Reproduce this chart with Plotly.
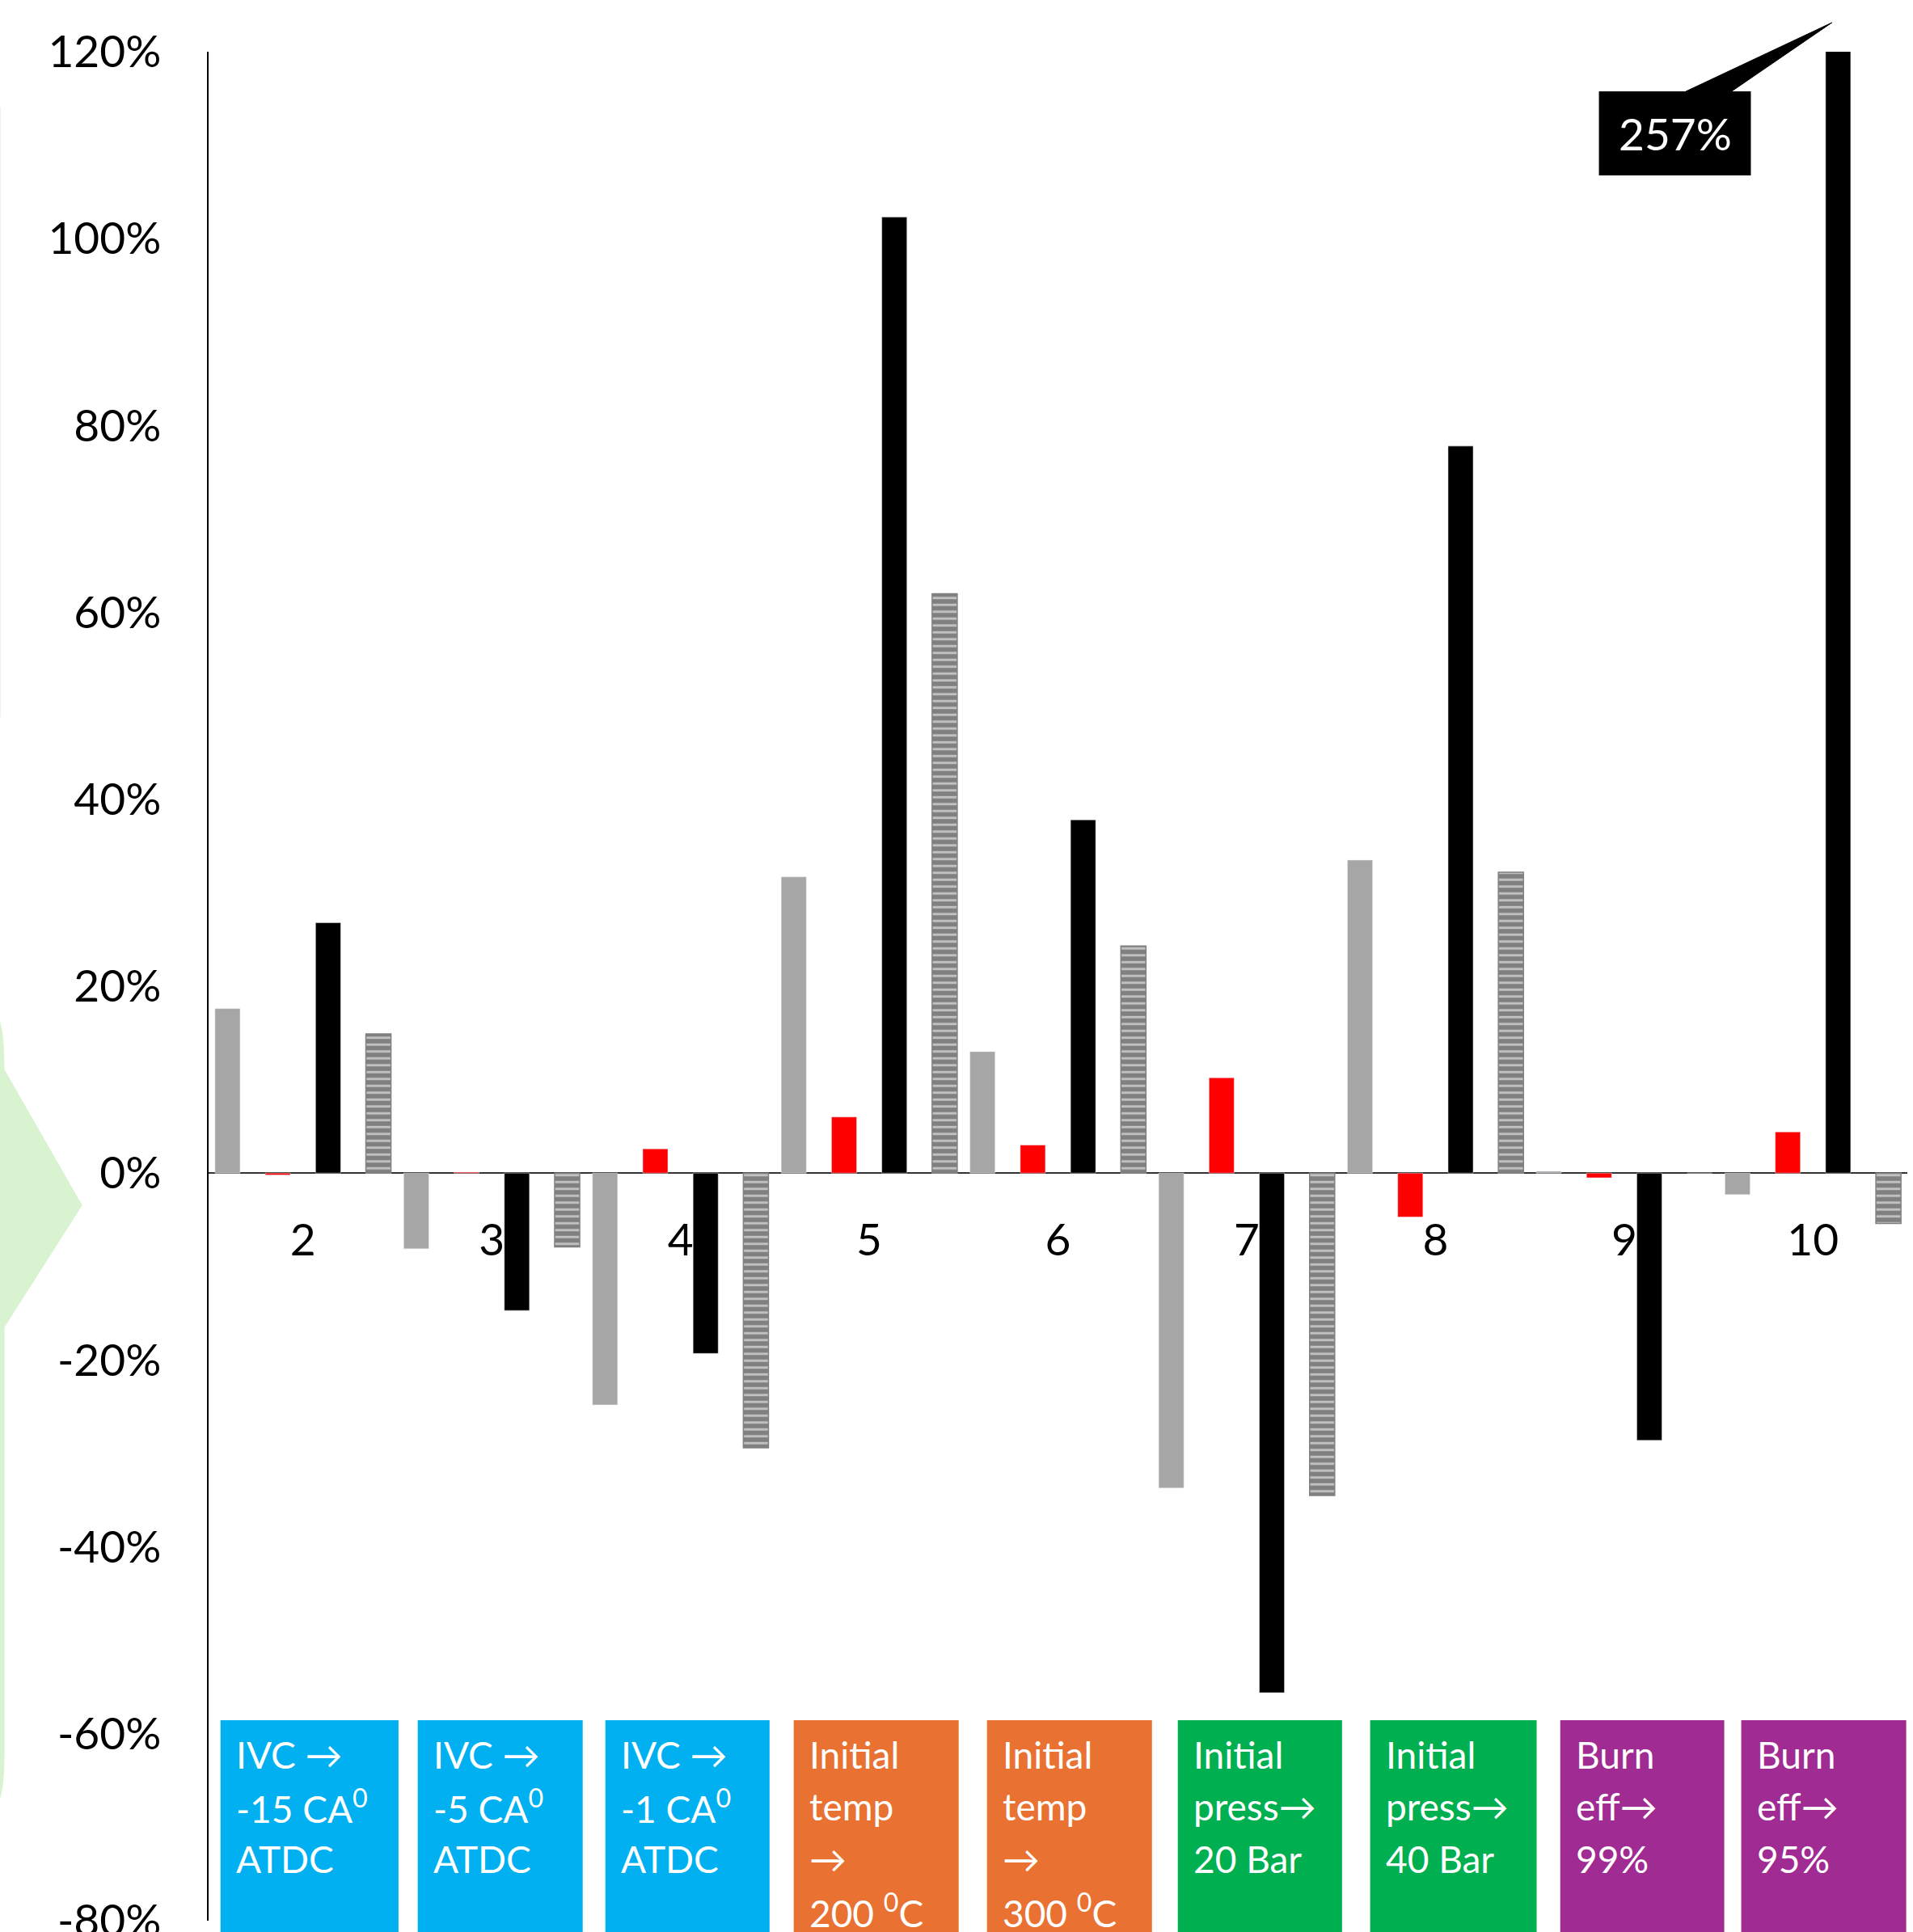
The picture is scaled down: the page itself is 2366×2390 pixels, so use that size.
import plotly.graph_objects as go

# ---- data -------------------------------------------------------------
categories = [2, 3, 4, 5, 6, 7, 8, 9, 10]
category_labels = [str(c) for c in categories]

series_gray = [0.176, -0.081, -0.248, 0.317, 0.130, -0.337, 0.335, 0.002, -0.023]
series_red = [-0.002, 0.001, 0.026, 0.060, 0.030, 0.102, -0.047, -0.005, 0.044]
series_black = [0.268, -0.147, -0.193, 1.023, 0.378, -0.556, 0.778, -0.286, 2.57]
series_hatched = [0.149, -0.079, -0.294, 0.620, 0.243, -0.345, 0.322, 0.0, -0.054]

y_tick_values = [-0.8, -0.6, -0.4, -0.2, 0.0, 0.2, 0.4, 0.6, 0.8, 1.0, 1.2]
y_tick_labels = [f"{v:.0%}" for v in y_tick_values]

scenario_labels = [
    ["IVC \u2192", "-15 CA<sup>0</sup>", "ATDC"],
    ["IVC \u2192", "-5 CA<sup>0</sup>", "ATDC"],
    ["IVC \u2192", "-1 CA<sup>0</sup>", "ATDC"],
    ["Initial", "temp", "\u2192", "200 <sup>0</sup>C"],
    ["Initial", "temp", "\u2192", "300 <sup>0</sup>C"],
    ["Initial", "press\u2192", "20 Bar"],
    ["Initial", "press\u2192", "40 Bar"],
    ["Burn", "eff\u2192", "99%"],
    ["Burn", "eff\u2192", "95%"],
]

# ---- layout constants -------------------------------------------------
W, H = 2366, 2390
M_L, M_R, M_T, M_B = 258, 7, 64, 14
PLOT_W = W - M_L - M_R
PLOT_H = H - M_T - M_B
FONT = "Lato"

BLUE, ORANGE, GREEN, PURPLE = "#00b0f0", "#e97132", "#00b050", "#a02b93"
scenario_colors = [BLUE, BLUE, BLUE, ORANGE, ORANGE, GREEN, GREEN, PURPLE, PURPLE]
# left/right edge of each scenario box, in x-axis units
scenario_spans = [
    (1.563, 2.506), (2.608, 3.482), (3.602, 4.472),
    (4.600, 5.474), (5.624, 6.498), (6.635, 7.505),
    (7.654, 8.536), (8.661, 9.530), (9.620, 10.494),
]

BAR_W = 0.133
BAR_STEP = 0.2665


def py(pix):
    """Pixel row -> paper y."""
    return (H - M_B - pix) / PLOT_H


def px(pix):
    """Pixel column -> paper x."""
    return (pix - M_L) / PLOT_W


fig = go.Figure()

series = [
    (series_gray, dict(color="#a6a6a6")),
    (series_red, dict(color="#ff0000")),
    (series_black, dict(color="#000000")),
    (series_hatched, dict(color="#808080",
                          line=dict(color="#808080", width=1.5),
                          pattern=dict(shape="-", fgcolor="white", bgcolor="#808080",
                                       size=8.5, solidity=0.35))),
]
for k, (vals, marker) in enumerate(series):
    center = (k - 1.5) * BAR_STEP
    fig.add_trace(go.Bar(
        x=categories, y=vals, width=BAR_W, offset=center - BAR_W / 2,
        marker=marker, showlegend=False, hoverinfo="skip",
    ))

fig.update_layout(
    width=W, height=H,
    margin=dict(l=M_L, r=M_R, t=M_T, b=M_B, pad=0, autoexpand=False),
    paper_bgcolor="white", plot_bgcolor="white",
    barmode="overlay",
    font=dict(family=FONT, color="black", size=55),
    xaxis=dict(
        range=[1.5, 10.5], anchor="free", position=0.4,
        tickmode="array", tickvals=categories, ticktext=category_labels,
        showline=True, linecolor="#333333", linewidth=1.5,
        showgrid=False, zeroline=False, ticks="",
        tickfont=dict(family=FONT, size=55, color="black"),
        ticklabelstandoff=35, layer="below traces", automargin=False,
    ),
    yaxis=dict(
        range=[-0.8, 1.2], anchor="x",
        tickmode="array", tickvals=y_tick_values, ticktext=y_tick_labels,
        showline=True, linecolor="black", linewidth=1.5,
        showgrid=False, zeroline=False, ticks="",
        tickfont=dict(family=FONT, size=55, color="black"),
        ticklabelstandoff=46, ticklabeloverflow="allow", automargin=False,
    ),
)

shapes = []
annotations = []

# scenario boxes under the chart
for lines, color, (x0, x1) in zip(scenario_labels, scenario_colors, scenario_spans):
    shapes.append(dict(type="rect", xref="x", yref="paper", x0=x0, x1=x1,
                       y0=py(2450), y1=py(2128), fillcolor=color,
                       line=dict(width=0), layer="above"))
    for j, line in enumerate(lines):
        annotations.append(dict(
            xref="x", yref="paper", x=x0, y=py(2170 + 64.5 * j),
            xanchor="left", yanchor="middle", xshift=17,
            text=line, showarrow=False,
            font=dict(family=FONT, size=46, color="white"),
        ))

# callout for the off-scale bar
last_cat = categories[-1]
bar_center = last_cat + 0.5 * BAR_STEP
tip_x = bar_center - 0.033
box_x0, box_x1 = 8.866, 9.671
shapes.append(dict(type="path", xref="x", yref="paper",
                   path=f"M {9.327},{py(113)} L {tip_x},{py(28)} L {9.569},{py(113)} Z",
                   fillcolor="black", line=dict(color="black", width=1)))
shapes.append(dict(type="rect", xref="x", yref="paper",
                   x0=box_x0, x1=box_x1, y0=py(217), y1=py(113),
                   fillcolor="black", line=dict(width=0)))
annotations.append(dict(
    xref="x", yref="paper", x=(box_x0 + box_x1) / 2, y=py(165),
    xanchor="center", yanchor="middle", showarrow=False,
    text=f"{series_black[-1]:.0%}",
    font=dict(family=FONT, size=55, color="white"),
))

# light green chevron at the left edge
green_path = (
    f"M {px(-5)},{py(1255)} "
    f"Q {px(5)},{py(1262)} {px(5.5)},{py(1323)} "
    f"L {px(101.7)},{py(1491)} "
    f"L {px(5.5)},{py(1642)} "
    f"L {px(5.5)},{py(2175)} "
    f"Q {px(5)},{py(2225)} {px(-5)},{py(2232)} Z"
)
shapes.append(dict(type="path", xref="paper", yref="paper", path=green_path,
                   fillcolor="#d9f2d0", line=dict(width=0), layer="below"))
shapes.append(dict(type="line", xref="paper", yref="paper",
                   x0=px(0.5), x1=px(0.5), y0=py(133), y1=py(887),
                   line=dict(color="#f0f0f0", width=1)))

fig.update_layout(shapes=shapes, annotations=annotations)

fig.write_html("out.html")
